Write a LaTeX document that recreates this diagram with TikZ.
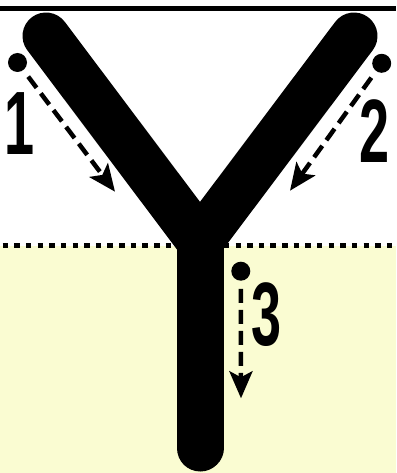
\documentclass[tikz,border=0pt]{standalone}
\usepackage{fontspec}
\setmainfont{Liberation Sans}
\usetikzlibrary{arrows.meta}
\definecolor{paleyellow}{RGB}{250,252,210}

\begin{document}
\begin{tikzpicture}[x=1pt, y=-1pt,
        limb/.style={line width=47pt, line cap=round, line join=round},
        flow/.style={-{Stealth[length=27pt, width=23pt, inset=6pt]}, line width=4.5pt, dash pattern=on 14pt off 7pt, shorten <=8pt},
        dot/.style={circle, fill, inner sep=0pt, minimum size=19pt},
        num/.style={inner sep=0pt, font=\fontsize{90}{90}\selectfont\bfseries}
    ]
    \useasboundingbox (0,0) rectangle (396,473);
    \fill[paleyellow] (0,246) rectangle (396,473);
    \draw[line width=5.5pt, dash pattern=on 5.5pt off 6.14pt] (2.7,245.5) -- (396,245.5);
    % the Y
    \coordinate (fork) at (200,241);
    \coordinate (armL) at (46,36);
    \coordinate (armR) at (354,36);
    \coordinate (foot) at (200,448);
    \draw[limb] (armL) -- (fork) -- (armR);
    \draw[limb] (fork) -- (foot);
    \draw[line width=4.5pt] (0,8.5) -- (396,8.5);
    % start points and paths
    \node[dot] (dot1) at (17.5,62.5) {};
    \node[dot] (dot2) at (381.7,63.3) {};
    \node[dot] (dot3) at (240.8,271.2) {};
    \coordinate (tip1) at (115,191.7);
    \coordinate (tip2) at (290,190.7);
    \coordinate (tip3) at (241,398.3);
    \draw[flow] (dot1) -- (tip1);
    \draw[flow] (dot2) -- (tip2);
    \draw[flow] (dot3) -- (tip3);
    \node[num] (lab1) at (20,123.3) {\scalebox{0.6}[1]{1}};
    \node[num] (lab2) at (375,131.5) {\scalebox{0.6}[1]{2}};
    \node[num] (lab3) at (266.7,315) {\scalebox{0.6}[1]{3}};
\end{tikzpicture}
\end{document}
